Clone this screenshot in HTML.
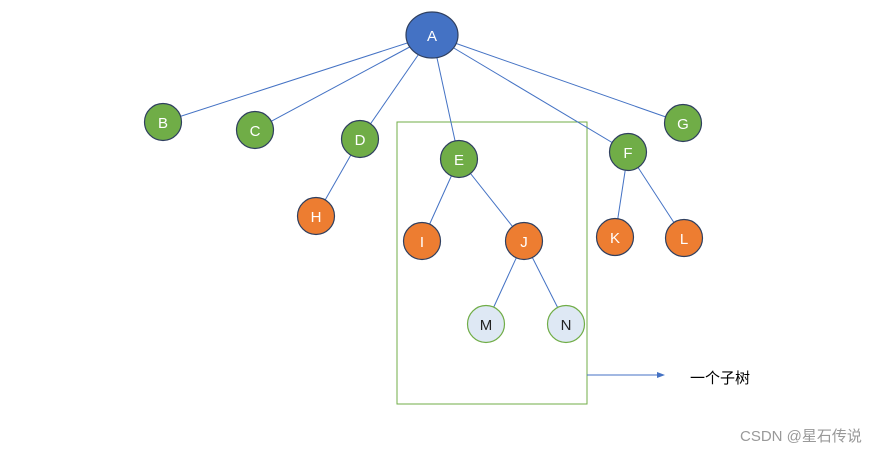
<!DOCTYPE html>
<html><head><meta charset="utf-8"><style>
html,body{margin:0;padding:0;background:#fff;}
svg{display:block;}
text{font-family:"Liberation Sans","Noto Sans CJK SC",sans-serif;}
</style></head><body>
<svg width="892" height="453" viewBox="0 0 892 453" xmlns="http://www.w3.org/2000/svg">
<rect x="397" y="122" width="190" height="282" fill="none" stroke="#70ad47" stroke-width="1"/>
<g stroke="#4472c4" stroke-width="1" fill="none">
<line x1="432" y1="35" x2="163" y2="122"/>
<line x1="432" y1="35" x2="255" y2="130"/>
<line x1="432" y1="35" x2="360" y2="139"/>
<line x1="432" y1="35" x2="459" y2="159"/>
<line x1="432" y1="35" x2="628" y2="152"/>
<line x1="432" y1="35" x2="683" y2="123"/>
<line x1="360" y1="139" x2="316" y2="216"/>
<line x1="459" y1="159" x2="422" y2="241"/>
<line x1="459" y1="159" x2="524" y2="241"/>
<line x1="524" y1="241" x2="486" y2="324"/>
<line x1="524" y1="241" x2="566" y2="324"/>
<line x1="628" y1="152" x2="615" y2="237"/>
<line x1="628" y1="152" x2="684" y2="238"/>
<line x1="587" y1="375" x2="658" y2="375"/>
</g>
<polygon points="665,375 657,372 657,378" fill="#4472c4"/>
<g stroke="#2f3f5f" stroke-width="1.2">
<ellipse cx="432" cy="35" rx="26" ry="23" fill="#4472c4"/>
<circle cx="163" cy="122" r="18.5" fill="#70ad47"/>
<circle cx="255" cy="130" r="18.5" fill="#70ad47"/>
<circle cx="360" cy="139" r="18.5" fill="#70ad47"/>
<circle cx="459" cy="159" r="18.5" fill="#70ad47"/>
<circle cx="628" cy="152" r="18.5" fill="#70ad47"/>
<circle cx="683" cy="123" r="18.5" fill="#70ad47"/>
<circle cx="316" cy="216" r="18.5" fill="#ed7d31"/>
<circle cx="422" cy="241" r="18.5" fill="#ed7d31"/>
<circle cx="524" cy="241" r="18.5" fill="#ed7d31"/>
<circle cx="615" cy="237" r="18.5" fill="#ed7d31"/>
<circle cx="684" cy="238" r="18.5" fill="#ed7d31"/>
</g>
<circle cx="486" cy="324" r="18.5" fill="#dee8f4" stroke="#70ad47" stroke-width="1.2"/>
<circle cx="566" cy="324" r="18.5" fill="#dee8f4" stroke="#70ad47" stroke-width="1.2"/>
<g fill="#fff" font-size="15" text-anchor="middle">
<text x="432" y="41">A</text>
<text x="163" y="128">B</text>
<text x="255" y="136">C</text>
<text x="360" y="145">D</text>
<text x="459" y="165">E</text>
<text x="628" y="158">F</text>
<text x="683" y="129">G</text>
<text x="316" y="222">H</text>
<text x="422" y="247">I</text>
<text x="524" y="247">J</text>
<text x="615" y="243">K</text>
<text x="684" y="244">L</text>
</g>
<g fill="#222" font-size="15" text-anchor="middle">
<text x="486" y="330">M</text>
<text x="566" y="330">N</text>
</g>
<text x="690" y="383" font-size="15" fill="#000">一个子树</text>
<text x="740" y="441" font-size="15" fill="#999">CSDN @星石传说</text>
</svg>
</body></html>
